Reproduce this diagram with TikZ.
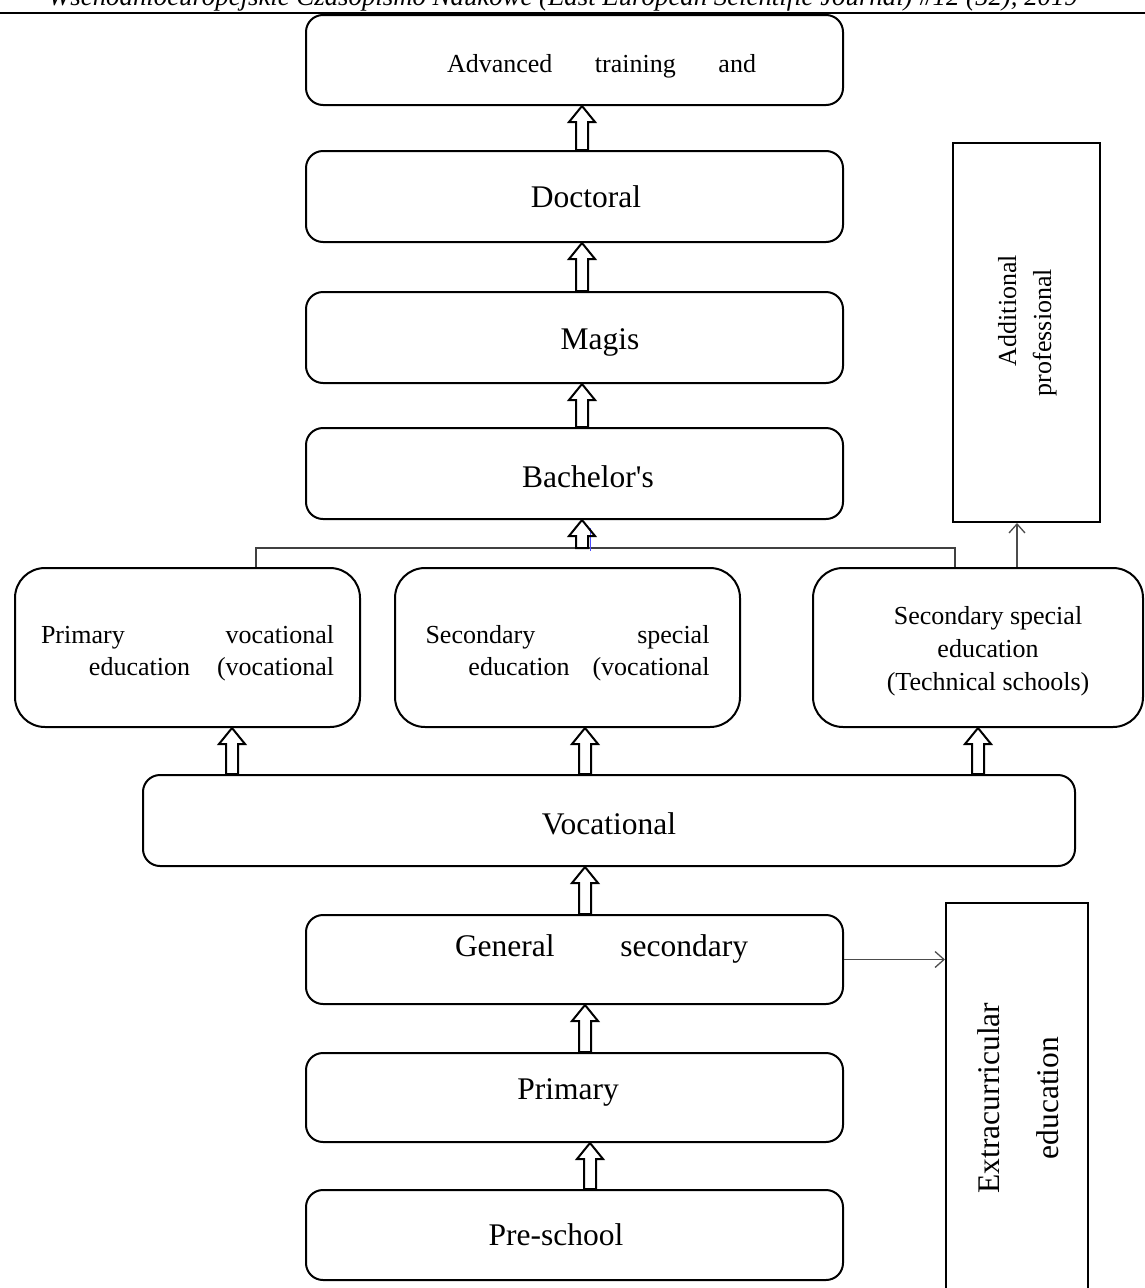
\documentclass[tikz,border=0pt]{standalone}
\usepackage{fontspec}
\setmainfont{Liberation Serif}
\usepackage{graphicx}
\usetikzlibrary{arrows.meta,calc}

\tikzset{
  rbox/.style={draw, line width=2pt, rounded corners=17pt, inner sep=0pt},
  sqbox/.style={draw, line width=2pt, inner sep=0pt},
  hollow/.style={draw, line width=2pt, line join=miter},
  thinarr/.style={draw=black!70, line width=1.3pt, -{Straight Barb[length=9pt,width=16pt]}},
  bracket/.style={draw=black!75, line width=1.3pt},
  bigtxt/.style={font=\fontsize{31.5}{36}\selectfont},
  smalltxt/.style={font=\fontsize{26}{33}\selectfont}
}

% hollow block arrow: x (px), lower point, upper point
\newcommand{\hollowup}[3]{%
  \draw[hollow] let \p1=(#2), \p2=(#3) in
    ({#1pt-6pt},\y1) -- ({#1pt-6pt},{\y2-16pt}) -- ({#1pt-13pt},{\y2-16pt}) -- ({#1pt},\y2)
    -- ({#1pt+13pt},{\y2-16pt}) -- ({#1pt+6pt},{\y2-16pt}) -- ({#1pt+6pt},\y1) -- cycle;}
% text whose baseline sits #1 above the node centre
\newcommand{\lift}[2]{\raisebox{#1}[0pt][0pt]{#2}}

\begin{document}
\begin{tikzpicture}[x=1pt,y=-1pt]
  \useasboundingbox (0,0) rectangle (1145,1288);
  \clip (0,0) rectangle (1145,1288);

  % Running head
  \node[anchor=base, font=\fontsize{26.8}{30}\selectfont\itshape] (head) at (563,5)
    {Wschodnioeuropejskie Czasopismo Naukowe (East European Scientific Journal) \#12 (52), 2019};
  \draw[line width=2.5pt] (0,13) -- (1145,13);

  % Higher levels
  \node[rbox, smalltxt, minimum width=537pt, minimum height=90pt] (adv) at (574.5,60)
    {\lift{-12pt}{\hspace*{54pt}\makebox[309pt][s]{Advanced training and}}};
  \node[rbox, bigtxt, minimum width=537pt, minimum height=91pt] (doc) at (574.5,196.5) {\hspace*{23pt}Doctoral};
  \node[rbox, bigtxt, minimum width=537pt, minimum height=91pt] (mag) at (574.5,337.5) {\lift{-12pt}{\hspace*{51pt}Magis}};
  \node[rbox, bigtxt, minimum width=537pt, minimum height=91pt] (bach) at (574.5,473.5) {\lift{-13.5pt}{\hspace*{27pt}Bachelor\textquotesingle s}};

  % Side box
  \node[sqbox, minimum width=147pt, minimum height=379pt] (addprof) at (1026.5,332.5)
    {\rotatebox{90}{\fontsize{26}{35}\selectfont\begin{tabular}{@{}c@{}}\hspace*{44pt}Additional\\professional\end{tabular}}};

  % Vocational branches
  \node[rbox, rounded corners=30pt, smalltxt, minimum width=345pt, minimum height=159pt] (pv) at (187.5,647.5)
    {\lift{4.5pt}{\parbox[t]{293pt}{\baselineskip=32pt\makebox[293pt][s]{Primary vocational}\\\makebox[293pt][r]{education\hspace{27pt}(vocational}}}};
  \node[rbox, rounded corners=30pt, smalltxt, minimum width=345pt, minimum height=159pt] (ss) at (567.5,647.5)
    {\lift{4.5pt}{\parbox[t]{284pt}{\baselineskip=32pt\makebox[284pt][s]{Secondary special}\\\makebox[284pt][r]{education\hspace{23pt}(vocational}}}};
  \node[rbox, rounded corners=30pt, smalltxt, minimum width=330pt, minimum height=159pt] (tech) at (978,647.5)
    {\lift{23.5pt}{\hspace*{20pt}\begin{tabular}[t]{@{}c@{}}Secondary special\\education\\(Technical schools)\end{tabular}}};

  % Lower levels
  \node[rbox, bigtxt, minimum width=932pt, minimum height=91pt] (voc) at (609,820.5) {\lift{-13.5pt}{Vocational}};
  \node[rbox, bigtxt, minimum width=537pt, minimum height=89pt] (gen) at (574.5,959.5)
    {\lift{2.7pt}{\hspace*{54pt}\makebox[293pt][s]{General secondary}}};
  \node[rbox, bigtxt, minimum width=537pt, minimum height=89pt] (prim) at (574.5,1097.5) {\lift{-2pt}{Primary\hspace*{13pt}}};
  \node[rbox, bigtxt, minimum width=537pt, minimum height=90pt] (pre) at (574.5,1235) {Pre-school\hspace*{37pt}};

  \node[sqbox, minimum width=142pt, minimum height=390pt] (extra) at (1017,1098)
    {\rotatebox{90}{\fontsize{31.5}{59}\selectfont\begin{tabular}{@{}c@{}}Extracurricular\\education\end{tabular}}};

  % Bracket over the three branches
  \coordinate (brl) at (256,548);
  \coordinate (brr) at (955,548);
  \draw[bracket] (pv.north -| brl) -- (brl) -- (brr) -- (tech.north -| brr);
  \draw[blue!70, line width=1pt] (590,528) -- (590,551);

  % Block arrows
  \hollowup{582}{doc.north}{adv.south}
  \hollowup{582}{mag.north}{doc.south}
  \hollowup{582}{bach.north}{mag.south}
  \hollowup{582}{brl}{bach.south}
  \hollowup{232}{voc.north}{pv.south}
  \hollowup{585}{voc.north}{ss.south}
  \hollowup{978}{voc.north}{tech.south}
  \hollowup{585}{gen.north}{voc.south}
  \hollowup{585}{prim.north}{gen.south}
  \hollowup{590}{pre.north}{prim.south}

  % Thin arrows to the side boxes
  \coordinate (ap) at (1017,0);
  \draw[thinarr] (tech.north -| ap) -- (addprof.south -| ap);
  \draw[thinarr] (gen.east) -- (gen.east -| extra.west);
\end{tikzpicture}
\end{document}
